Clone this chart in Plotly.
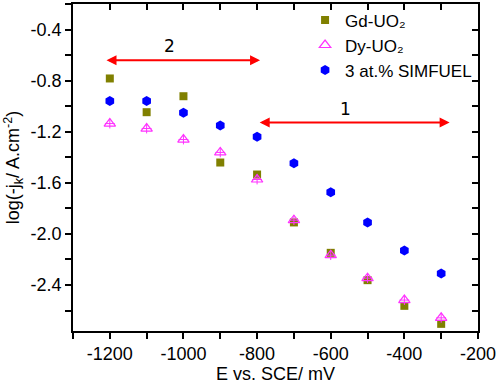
import plotly.graph_objects as go

E = [-1200, -1100, -1000, -900, -800, -700, -600, -500, -400, -300]
gd_uo2 = [-0.783, -1.047, -0.922, -1.441, -1.535, -1.910, -2.148, -2.362, -2.563, -2.704]
dy_uo2 = [-1.136, -1.175, -1.261, -1.362, -1.574, -1.892, -2.166, -2.346, -2.518, -2.657]
simfuel = [-0.959, -0.959, -1.052, -1.151, -1.240, -1.446, -1.673, -1.910, -2.129, -2.309]

x_ticks = [-1200, -1000, -800, -600, -400, -200]
x_ticktext = ["-1200", "-1000", "-800", "-600", "-400", "-200"]
y_ticks = [-0.4, -0.8, -1.2, -1.6, -2.0, -2.4]
y_ticktext = ["-0.4", "-0.8", "-1.2", "-1.6", "-2.0", "-2.4"]

XR = [-1300, -200]
YR = [-2.76, -0.2]

FONT = "Arial, Liberation Sans, sans-serif"

fig = go.Figure()
fig.add_trace(go.Scatter(x=E, y=gd_uo2, mode="markers", name="Gd-UO₂", legendgroup="a",
                         marker=dict(symbol="square", size=8, color="#808000")))
fig.add_trace(go.Scatter(x=E, y=dy_uo2, mode="markers", name="Dy-UO₂", legendgroup="b",
                         marker=dict(symbol="triangle-up-open", size=10, color="#FF33FF",
                                     line=dict(width=1.2, color="#FF33FF"))))
fig.add_trace(go.Scatter(x=E, y=dy_uo2, mode="markers", showlegend=False, hoverinfo="skip",
                         legendgroup="b",
                         marker=dict(symbol="cross-thin-open", size=7, color="#FF33FF",
                                     line=dict(width=1, color="#FF33FF"))))
fig.add_trace(go.Scatter(x=E, y=simfuel, mode="markers", name="3 at.% SIMFUEL", legendgroup="c",
                         marker=dict(symbol="hexagon", size=10, color="#0000FF")))
# invisible trace for mirror axes
fig.add_trace(go.Scatter(x=XR, y=YR, xaxis="x2", yaxis="y2", mode="markers",
                         marker=dict(opacity=0), showlegend=False, hoverinfo="skip"))

# arrows
arrows = [
    dict(x0=-1213, x1=-792, y=-0.64, label="2", lx=-1039, ly=-0.528),
    dict(x0=-797, x1=-277, y=-1.128, label="1", lx=-559, ly=-1.024),
]
for a in arrows:
    fig.add_annotation(x=a["x1"], y=a["y"], ax=a["x0"], ay=a["y"], xref="x", yref="y",
                       axref="x", ayref="y", showarrow=True, arrowhead=2, arrowside="end+start",
                       arrowsize=1, arrowwidth=2, arrowcolor="#FF0000", text="")
    fig.add_annotation(x=a["lx"], y=a["ly"], xref="x", yref="y", text=a["label"], showarrow=False,
                       font=dict(family="DejaVu Sans", size=17, color="black"))

axis_common = dict(showgrid=False, zeroline=False, linecolor="black", linewidth=1.5,
                   tickcolor="black", tickwidth=1.5, ticklen=6, automargin=False)

fig.update_layout(
    width=498, height=384,
    margin=dict(l=73, r=20, t=4, b=53, autoexpand=False),
    plot_bgcolor="white", paper_bgcolor="white",
    font=dict(family=FONT, size=18, color="black"),
    xaxis=dict(range=XR, tickvals=x_ticks, ticktext=x_ticktext, ticks="outside",
               showline=True, mirror=True,
               minor=dict(dtick=100, tick0=-1300, ticks="outside", ticklen=6, tickwidth=1.5, tickcolor="black"),
               title=dict(text="E vs. SCE/ mV", standoff=2, font=dict(size=18)),
               tickfont=dict(size=18), **axis_common),
    yaxis=dict(range=YR, tickvals=y_ticks, ticktext=y_ticktext, ticks="outside",
               showline=True, mirror=True,
               minor=dict(dtick=0.2, tick0=-0.4, ticks="outside", ticklen=6, tickwidth=1.5, tickcolor="black"),
               title=dict(text="log(-j<sub>k</sub>/ A.cm<sup>-2</sup>)", standoff=6, font=dict(size=18)),
               tickfont=dict(size=18), **axis_common),
    xaxis2=dict(range=XR, overlaying="x", side="top", ticks="inside", showticklabels=False,
                tick0=-1300, dtick=100, showline=False, **axis_common),
    yaxis2=dict(range=YR, overlaying="y", side="right", ticks="inside", showticklabels=False,
                tick0=-0.2, dtick=0.2, showline=False, **axis_common),
    legend=dict(x=0.573, y=1.005, xanchor="left", yanchor="top", bgcolor="rgba(0,0,0,0)",
                tracegroupgap=0, font=dict(size=17)),
    showlegend=True,
)

fig.write_html("out.html", config={"displayModeBar": False},
               post_script="document.body.style.margin='0px';")
